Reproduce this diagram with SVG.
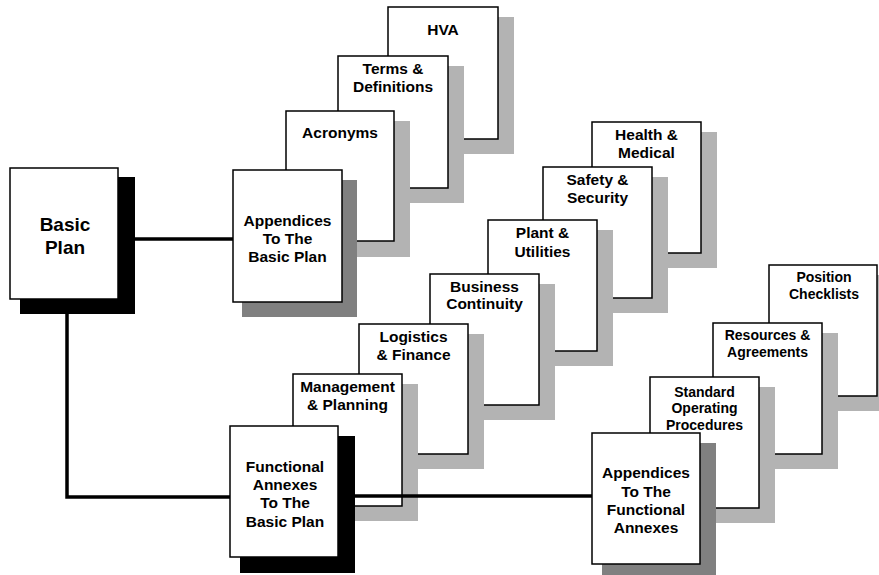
<svg xmlns="http://www.w3.org/2000/svg" width="879" height="575" viewBox="0 0 879 575">
<style>
.box{fill:#fff;stroke:#000;stroke-width:1.5}
.sl{fill:#b3b3b3}
.sd{fill:#808080}
.sb{fill:#000}
text{font-family:"Liberation Sans",Arial,sans-serif;font-weight:bold;font-size:15.5px;text-anchor:middle;fill:#000}
.sm{font-size:14px}
.lg{font-size:19px}
.con{fill:none;stroke:#000;stroke-width:3.5}
</style>
<rect width="879" height="575" fill="#fff"/>
<!-- top stack -->
<g id="hva"><rect class="sl" x="398" y="17" width="116" height="137"/><rect class="box" x="388" y="7" width="110" height="132"/><text x="443" y="35">HVA</text></g>
<g id="terms"><rect class="sl" x="348" y="66" width="116" height="137"/><rect class="box" x="338" y="56" width="110" height="132"/><text x="393" y="74">Terms &amp;</text><text x="393" y="92">Definitions</text></g>
<g id="acronyms"><rect class="sl" x="296" y="121" width="114" height="136"/><rect class="box" x="286" y="111" width="108" height="130"/><text x="340" y="138">Acronyms</text></g>
<!-- middle stack -->
<g id="health"><rect class="sl" x="602" y="132" width="115" height="136"/><rect class="box" x="592" y="122" width="109" height="131"/><text x="646.5" y="140">Health &amp;</text><text x="646.5" y="158">Medical</text></g>
<g id="safety"><rect class="sl" x="553" y="177" width="115" height="136"/><rect class="box" x="543" y="167" width="109" height="131"/><text x="597.5" y="185">Safety &amp;</text><text x="597.5" y="203">Security</text></g>
<g id="plant"><rect class="sl" x="498" y="230" width="115" height="136"/><rect class="box" x="488" y="220" width="109" height="131"/><text x="542.5" y="238">Plant &amp;</text><text x="542.5" y="257">Utilities</text></g>
<g id="business"><rect class="sl" x="440" y="284" width="115" height="136"/><rect class="box" x="430" y="274" width="109" height="131"/><text x="484.5" y="292">Business</text><text x="484.5" y="309">Continuity</text></g>
<g id="logistics"><rect class="sl" x="369" y="334" width="115" height="135"/><rect class="box" x="359" y="324" width="109" height="130"/><text x="413.5" y="342">Logistics</text><text x="413.5" y="360">&amp; Finance</text></g>
<g id="management"><rect class="sl" x="303" y="384" width="115" height="137"/><rect class="box" x="293" y="374" width="109" height="132"/><text x="347.5" y="392">Management</text><text x="347.5" y="410">&amp; Planning</text></g>
<!-- right stack -->
<g id="position"><rect class="sl" x="779" y="275" width="114" height="136"/><rect class="box" x="769" y="265" width="108" height="131"/><text class="sm" x="824" y="282">Position</text><text class="sm" x="824" y="299">Checklists</text></g>
<g id="resources"><rect class="sl" x="723" y="333" width="115" height="136"/><rect class="box" x="713" y="323" width="109" height="131"/><text class="sm" x="767.5" y="340">Resources &amp;</text><text class="sm" x="767.5" y="357">Agreements</text></g>
<g id="standard"><rect class="sl" x="660" y="387" width="115" height="136"/><rect class="box" x="650" y="377" width="109" height="131"/><text class="sm" x="704.5" y="397">Standard</text><text class="sm" x="704.5" y="413">Operating</text><text class="sm" x="704.5" y="430">Procedures</text></g>
<!-- connectors -->
<g id="connectors">
<line class="con" x1="135" y1="239" x2="233" y2="239"/>
<polyline class="con" points="67,314 67,497 230,497"/>
<line class="con" x1="355" y1="496" x2="592" y2="496"/>
</g>
<!-- main nodes -->
<g id="basic-plan"><rect class="sb" x="20" y="177" width="115" height="137"/><rect class="box" x="10" y="168" width="108" height="131"/><text class="lg" x="65" y="231">Basic</text><text class="lg" x="65" y="254">Plan</text></g>
<g id="appendices-bp"><rect class="sd" x="242" y="180" width="115" height="137"/><rect class="box" x="233" y="170" width="109" height="132"/><text x="287.5" y="226">Appendices</text><text x="287.5" y="244">To The</text><text x="287.5" y="262">Basic Plan</text></g>
<g id="functional"><rect class="sb" x="240" y="436" width="115" height="137"/><rect class="box" x="230" y="426" width="108" height="131"/><text x="285" y="472">Functional</text><text x="285" y="490">Annexes</text><text x="285" y="508">To The</text><text x="285" y="527">Basic Plan</text></g>
<g id="appendices-fa"><rect class="sd" x="602" y="443" width="114" height="137"/><rect class="box" x="592" y="433" width="108" height="131"/><text x="646" y="478">Appendices</text><text x="646" y="497">To The</text><text x="646" y="515">Functional</text><text x="646" y="533">Annexes</text></g>
</svg>
